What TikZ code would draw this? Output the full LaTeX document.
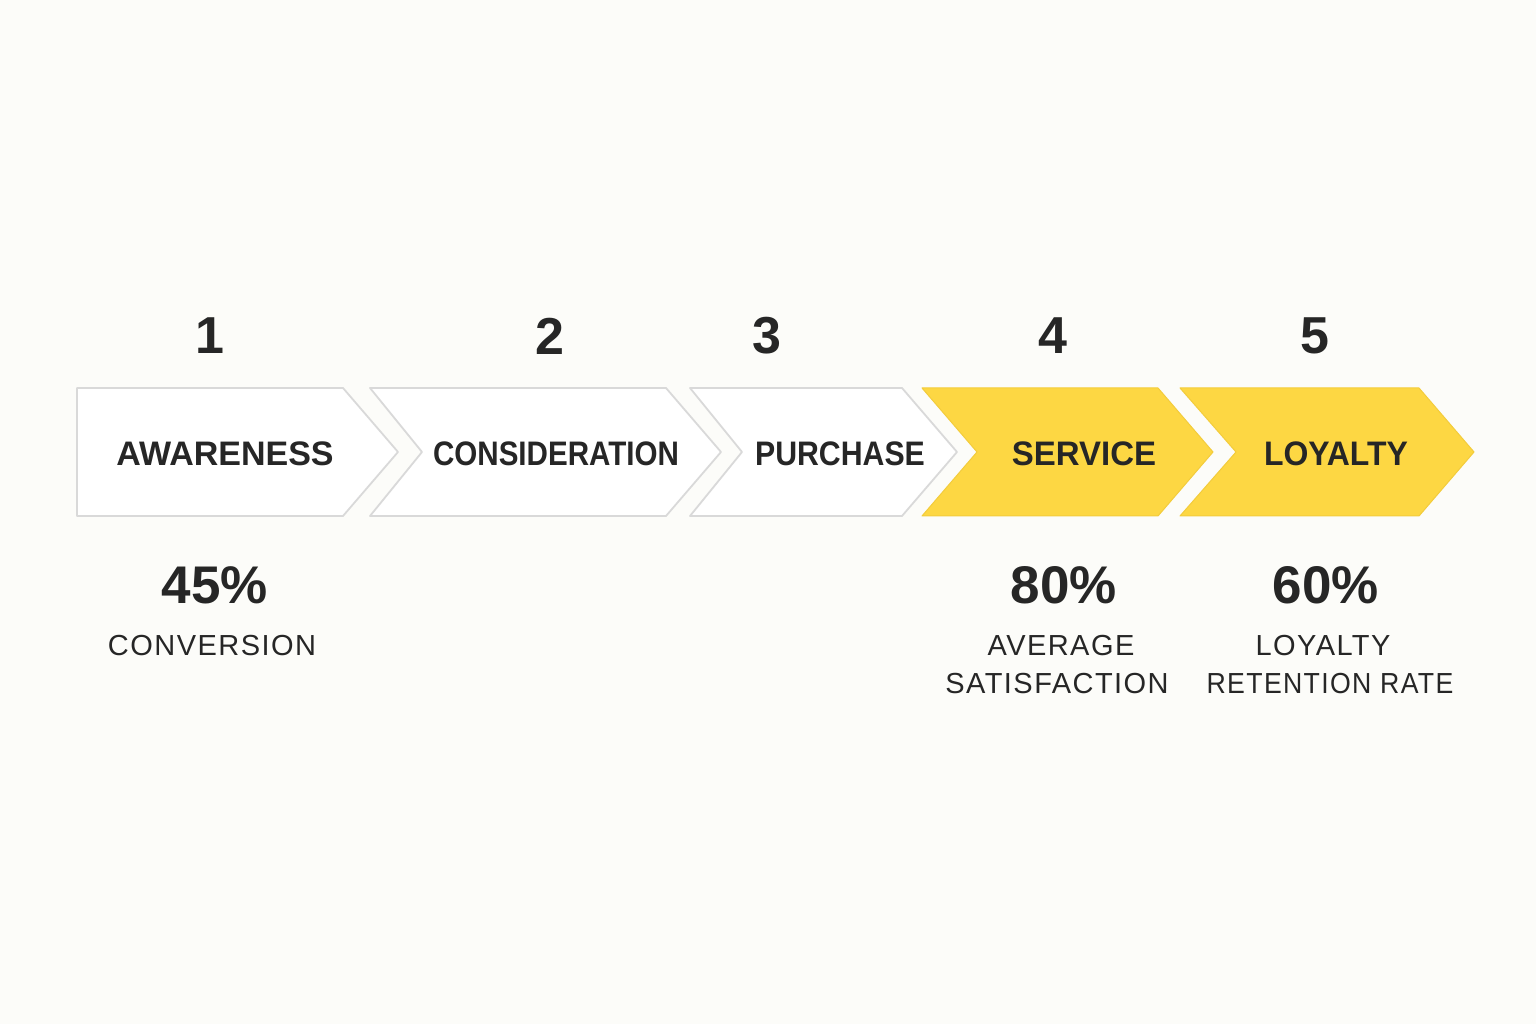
\documentclass[tikz,border=0pt]{standalone}
\usepackage{fontspec}
\setmainfont{Liberation Sans}
\newfontfamily\statfont[LetterSpace=5]{Liberation Sans}
\usepackage{graphicx}
\usepackage{tikz}
\usetikzlibrary{calc}
\usetikzlibrary{positioning}
\definecolor{pageBg}{HTML}{FCFCF9}
\definecolor{inkDark}{HTML}{262626}
\definecolor{rimGray}{HTML}{D9D9D9}
\definecolor{stageGold}{HTML}{FDD743}
\definecolor{rimGold}{HTML}{F3CC3C}
\tikzset{
  plainArrow/.style={%
    fill=white, draw=rimGray, line width=1.8pt, line join=round,
  },
  goldArrow/.style={%
    fill=stageGold, draw=rimGold, line width=1pt, line join=round,
  },
  stepNum/.style={%
    inner sep=0pt, text=inkDark, font=\fontsize{52}{60}\selectfont\bfseries,
  },
  stageText/.style={%
    inner sep=0pt, text=inkDark, font=\fontsize{34}{40}\selectfont\bfseries,
  },
  pctText/.style={%
    inner sep=0pt, text=inkDark, font=\fontsize{53}{60}\selectfont\bfseries,
  },
  statText/.style={%
    inner sep=0pt, text=inkDark, font=\statfont\fontsize{29}{34}\selectfont,
  }
}

\begin{document}
\begin{tikzpicture}[x=1pt,y=1pt]
        \fill[pageBg] (0,0) rectangle (1536,1024);
        \useasboundingbox (0,0) rectangle (1536,1024);
        % chevrons
        \foreach \xl/\xs/\nd/\sty in {77/343/0/plainArrow, 370/666/52/plainArrow,
          690/902/52/plainArrow, 922/1158/55/goldArrow, 1180/1419/56/goldArrow}
        {
          \draw[\sty] (\xl,636) -- (\xs,636) -- ++(55,-64) -- (\xs,508)
            -- (\xl,508) -- ++(\nd,64) -- cycle;
        }
        % step numbers
        \foreach \x/\n in {210/1, 550/2, 767/3, 1053/4, 1315/5}
        {
          \node[stepNum] (num\n) at (\x,688) {\n};
        }
        % stage names
        \node[stageText] (awareness) at (225,570) {AWARENESS};
        \node[stageText] (consideration) at (556,570) {\scalebox{0.87}[1]{CONSIDERATION}};
        \node[stageText] (purchase) at (840,570) {\scalebox{0.89}[1]{PURCHASE}};
        \node[stageText] (service) at (1084,570) {\scalebox{0.97}[1]{SERVICE}};
        \node[stageText] (loyalty) at (1336,570) {\scalebox{0.94}[1]{LOYALTY}};
        % figures
        \node[pctText] (pctConv) at (215,439) {45\%};
        \node[pctText] (pctSat) at (1064,439) {80\%};
        \node[pctText] (pctRet) at (1326,439) {60\%};
        \node[statText] (conv) at (212,378) {CONVERSION};
        \node[statText] (avg) at (1061,378) {AVERAGE};
        \node[statText] (sat) at (1057,340) {SATISFACTION};
        \node[statText] (loyal) at (1323,378) {LOYALTY};
        \node[statText] (ret) at (1330,340) {\scalebox{0.92}[1]{RETENTION RATE}};
      \end{tikzpicture}
\end{document}
